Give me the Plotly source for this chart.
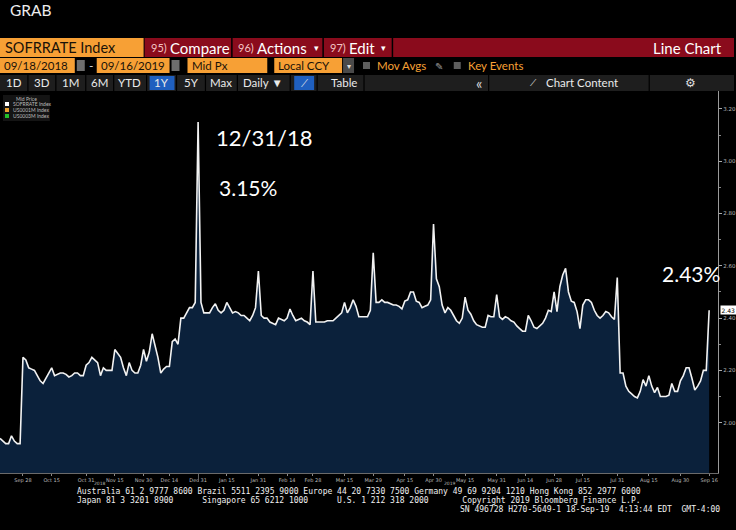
import pandas as pd
import plotly.graph_objects as go

# ---------------- data ----------------
holidays = ["2018-10-08", "2018-11-12", "2018-11-22", "2018-12-05", "2018-12-25",
            "2019-01-01", "2019-01-21", "2019-02-18", "2019-04-19", "2019-05-27",
            "2019-07-04", "2019-09-02"]
all_days = pd.bdate_range("2018-09-18", "2019-09-16")
dates = [d.strftime("%Y-%m-%d") for d in all_days if d.strftime("%Y-%m-%d") not in holidays]

sep18 = [1.94, 1.93, 1.92, 1.92, 1.95, 1.93, 1.92, 1.92, 2.25]
oct18 = [2.24, 2.21, 2.205, 2.20, 2.18, 2.16, 2.15, 2.17, 2.19, 2.21, 2.18, 2.185, 2.19, 2.19,
         2.185, 2.175, 2.18, 2.19, 2.19, 2.18, 2.18, 2.22]
nov18 = [2.23, 2.25, 2.24, 2.23, 2.18, 2.21, 2.20, 2.20, 2.20, 2.28, 2.265, 2.25, 2.21, 2.18,
         2.23, 2.20, 2.19, 2.19, 2.22, 2.28]
dec18 = [2.235, 2.27, 2.34, 2.30, 2.25, 2.19, 2.205, 2.215, 2.215, 2.31, 2.32, 2.30, 2.40,
         2.40, 2.42, 2.44, 2.44, 2.46, 3.15]
jan19 = [2.46, 2.42, 2.42, 2.42, 2.44, 2.455, 2.43, 2.42, 2.43, 2.46, 2.44, 2.42, 2.425,
         2.42, 2.41, 2.41, 2.40, 2.39, 2.41, 2.44, 2.58]
feb19 = [2.41, 2.40, 2.40, 2.385, 2.38, 2.375, 2.40, 2.395, 2.39, 2.40, 2.435, 2.41, 2.39,
         2.395, 2.40, 2.39, 2.385, 2.375, 2.58]
mar19 = [2.385, 2.385, 2.385, 2.385, 2.39, 2.39, 2.39, 2.40, 2.41, 2.42, 2.46, 2.42, 2.44,
         2.47, 2.445, 2.405, 2.405, 2.405, 2.405, 2.43, 2.65]
apr19 = [2.46, 2.46, 2.47, 2.46, 2.46, 2.455, 2.45, 2.45, 2.445, 2.435, 2.465, 2.47, 2.50,
         2.50, 2.465, 2.46, 2.44, 2.445, 2.45, 2.47, 2.76]
may19 = [2.55, 2.52, 2.45, 2.42, 2.44, 2.43, 2.41, 2.39, 2.38, 2.40, 2.48, 2.43, 2.415,
         2.39, 2.375, 2.37, 2.365, 2.365, 2.41, 2.405, 2.405, 2.49]
jun19 = [2.405, 2.395, 2.405, 2.40, 2.39, 2.385, 2.37, 2.36, 2.35, 2.35, 2.41, 2.39, 2.365,
         2.36, 2.37, 2.38, 2.40, 2.43, 2.425, 2.50]
jul19 = [2.425, 2.52, 2.565, 2.59, 2.50, 2.465, 2.46, 2.425, 2.36, 2.45, 2.47, 2.47, 2.46,
         2.43, 2.41, 2.40, 2.41, 2.425, 2.42, 2.405, 2.395, 2.555]
aug19 = [2.19, 2.19, 2.14, 2.12, 2.11, 2.10, 2.095, 2.12, 2.165, 2.14, 2.18, 2.14, 2.115,
         2.135, 2.10, 2.10, 2.10, 2.105, 2.15, 2.12, 2.12, 2.16]
sep19 = [2.18, 2.21, 2.21, 2.17, 2.125, 2.14, 2.16, 2.20, 2.20, 2.43]
sofr = sep18 + oct18 + nov18 + dec18 + jan19 + feb19 + mar19 + apr19 + may19 + jun19 + jul19 + aug19 + sep19

tick_dates = ["2018-09-28", "2018-10-15", "2018-10-31", "2018-11-15", "2018-11-30", "2018-12-14",
              "2018-12-31", "2019-01-15", "2019-01-31", "2019-02-14", "2019-02-28", "2019-03-15",
              "2019-03-29", "2019-04-15", "2019-04-30", "2019-05-15", "2019-05-31", "2019-06-14",
              "2019-06-28", "2019-07-15", "2019-07-31", "2019-08-15", "2019-08-30", "2019-09-16"]
tick_text = ["Sep 28", "Oct 15", "Oct 31", "Nov 15", "Nov 30", "Dec 14", "Dec 31", "Jan 15",
             "Jan 31", "Feb 14", "Feb 28", "Mar 15", "Mar 29", "Apr 15", "Apr 30", "May 15",
             "May 31", "Jun 14", "Jun 28", "Jul 15", "Jul 31", "Aug 15", "Aug 30", "Sep 16"]
y_ticks = [2.00, 2.20, 2.40, 2.60, 2.80, 3.00, 3.20]
last_value = sofr[-1]

# ---------------- layout helpers ----------------
W, H = 736, 530
def px(x): return x / W
def py(y): return 1 - y / H

UI = "Lato"
MONO = "DejaVu Sans Mono"
ORANGE = "#F7A035"
RED = "#8A0B1C"

fig = go.Figure()
fig.add_trace(go.Scatter(
    x=dates, y=sofr, mode="lines", fill="tozeroy",
    fillcolor="#0B213B", line=dict(color="#F2F2F2", width=1.6),
    hoverinfo="skip", showlegend=False))

shapes = []
ann = []

def rect(x0, y0, x1, y1, color):
    shapes.append(dict(type="rect", xref="paper", yref="paper", x0=px(x0), x1=px(x1),
                       y0=py(y1), y1=py(y0), fillcolor=color, line=dict(width=0), layer="above"))

def line(x0, y0, x1, y1, color, w=1):
    shapes.append(dict(type="line", xref="paper", yref="paper", x0=px(x0), x1=px(x1),
                       y0=py(y0), y1=py(y1), line=dict(color=color, width=w), layer="above"))

def text(x, y, s, size, color, anchor="left", family=UI, **kw):
    ann.append(dict(xref="paper", yref="paper", x=px(x), y=py(y), text=s, showarrow=False,
                    xanchor=anchor, yanchor="middle", font=dict(size=size, color=color, family=family), **kw))

# title
text(8, 10, "GRAB", 15.5, "#EDEDED")

# row 1
rect(0, 38, 144, 57, ORANGE)
text(3, 47.5, "SOFRRATE Index", 14.5, "#1A1208")
rect(145, 38, 736, 57, RED)
line(232.5, 38, 232.5, 57, "#000", 1.5)
line(324, 38, 324, 57, "#000", 1.5)
line(393.5, 38, 393.5, 57, "#000", 1.5)
text(149, 47.5, "95)", 11, "#F3C3C3")
text(168, 47.5, "Compare", 15, "#FFFFFF")
text(237, 47.5, "96)", 11, "#F3C3C3")
text(256, 47.5, "Actions", 15, "#FFFFFF")
text(313, 48, "▾", 9, "#FFFFFF")
text(329, 47.5, "97)", 11, "#F3C3C3")
text(348, 47.5, "Edit", 15, "#FFFFFF")
text(380, 48, "▾", 9, "#FFFFFF")
text(726, 47.5, "Line Chart", 15, "#FFFFFF", anchor="right")

# row 2
RS = 11.5
rect(0, 58, 75, 73, ORANGE)
text(2, 65.5, "09/18/2018", RS, "#1A1208")
rect(77, 60, 85, 71, "#6E6E6E")
text(91, 65.5, "-", 12, "#DDDDDD", anchor="center")
rect(97, 58, 170, 73, ORANGE)
text(99, 65.5, "09/16/2019", RS, "#1A1208")
rect(172, 60, 180, 71, "#6E6E6E")
rect(188, 58, 268, 73, ORANGE)
text(191, 65.5, "Mid Px", RS, "#1A1208")
rect(275, 58, 343, 73, ORANGE)
text(277, 65.5, "Local CCY", RS, "#1A1208")
rect(344, 58, 355, 73, "#4A4A4A")
text(349.5, 66, "▾", 8, "#DDDDDD", anchor="center")
rect(364, 62, 371, 69, "#5E5E5E")
text(376, 65.5, "Mov Avgs", RS, ORANGE)
text(440, 65.5, "✎", 10, "#9A9A9A", anchor="center")
rect(455, 62, 462, 69, "#5E5E5E")
text(467, 65.5, "Key Events", RS, ORANGE)

# row 3 toolbar
rect(0, 75, 736, 91, "#1E1E1E")
for sx in [28, 56, 86, 114, 147, 177, 206, 238, 291, 318, 365, 490, 651]:
    line(sx, 75, sx, 91, "#000", 1.2)
rect(150, 76, 175, 90, "#1F5FBF")
rect(295, 76, 315, 90, "#1F5FBF")
for lbl, cx in [("1D", 14), ("3D", 42), ("1M", 71), ("6M", 100), ("YTD", 130), ("1Y", 162),
                ("5Y", 192), ("Max", 222), ("Daily ▼", 264), ("Table", 345)]:
    text(cx, 83, lbl, 11.5, "#EAEAEA", anchor="center")
text(305, 83, "⟋", 10, "#EAEAEA", anchor="center")
text(480, 82.5, "«", 15, "#DDDDDD", anchor="center")
text(535, 83, "⟋", 9, "#EAEAEA", anchor="center")
text(545, 83, "Chart Content", 11.5, "#EAEAEA")
text(692, 83, "⚙", 12, "#DDDDDD", anchor="center")

# legend box
rect(3, 95, 50, 121, "#141414")
text(27, 99, "Mid Price", 5, "#BBBBBB", anchor="center")
for i, (lbl, col) in enumerate([("SOFRRATE Index", "#FFFFFF"), ("US0001M Index", "#E8A030"),
                                ("US0003M Index", "#22C02A")]):
    rect(5, 102 + i * 6, 9, 106 + i * 6, col)
    text(11, 104 + i * 6, lbl, 5, "#BBBBBB")

# big chart annotations
text(215, 137, "12/31/18", 22, "#FFFFFF")
text(218, 187, "3.15%", 21, "#FFFFFF")
text(662, 273, "2.43%", 21, "#FFFFFF")

# last value box
ann.append(dict(xref="paper", yref="y", x=px(722), y=last_value, text=f"{last_value:.2f}",
                showarrow=False, xanchor="left", yanchor="middle", bgcolor="#FFFFFF",
                borderpad=0.5, font=dict(size=6, color="#000000", family="DejaVu Sans")))

# year labels and year separator tick
text(100, 483.3, "2018", 4.5, "#BBBBBB", anchor="center", family="DejaVu Sans")
text(451, 483.3, "2019", 4.5, "#BBBBBB", anchor="center", family="DejaVu Sans")
line(199, 474, 199, 482, "#666666", 1)

# footer
def nb(s): return s.replace(" ", "\u00a0")
FS = 8.0
text(75, 491, nb("Australia 61 2 9777 8600 Brazil 5511 2395 9000 Europe 44 20 7330 7500 Germany 49 69 9204 1210 Hong Kong 852 2977 6000"), FS, "#F0F0F0", family=MONO)
text(75, 500, nb("Japan 81 3 3201 8900      Singapore 65 6212 1000      U.S. 1 212 318 2000       Copyright 2019 Bloomberg Finance L.P."), FS, "#F0F0F0", family=MONO)
text(459, 509, nb("SN 496728 H270-5649-1 18-Sep-19  4:13:44 EDT  GMT-4:00"), FS, "#F0F0F0", family=MONO)

fig.update_layout(
    width=W, height=H, margin=dict(l=0, r=0, t=0, b=0, pad=0),
    paper_bgcolor="#000000", plot_bgcolor="#000000",
    showlegend=False, shapes=shapes, annotations=ann,
    xaxis=dict(type="category", domain=[0, px(720)], range=[0, 250.1],
               tickmode="array", tickvals=tick_dates, ticktext=tick_text,
               tickfont=dict(size=5, color="#BBBBBB", family="DejaVu Sans"),
               ticks="outside", ticklen=2, tickcolor="#888888",
               showgrid=False, zeroline=False, showline=True, linecolor="#6A6A6A", linewidth=1),
    yaxis=dict(side="right", domain=[py(473), py(91)], range=[1.8077, 3.2685],
               tickmode="array", tickvals=y_ticks, ticktext=[f"{v:.2f}" for v in y_ticks],
               tickfont=dict(size=5.5, color="#BBBBBB", family="DejaVu Sans"),
               ticks="outside", ticklen=3, tickcolor="#AAAAAA",
               minor=dict(tickvals=[2.1, 2.3, 2.5, 2.7, 2.9, 3.1], ticks="outside", ticklen=2, tickcolor="#888888"),
               showgrid=False, zeroline=False, showline=True, linecolor="#9A9A9A", linewidth=1),
)

fig.write_html("out.html", config={"displayModeBar": False},
               post_script="document.body.style.margin='0';document.body.style.overflow='hidden';")
